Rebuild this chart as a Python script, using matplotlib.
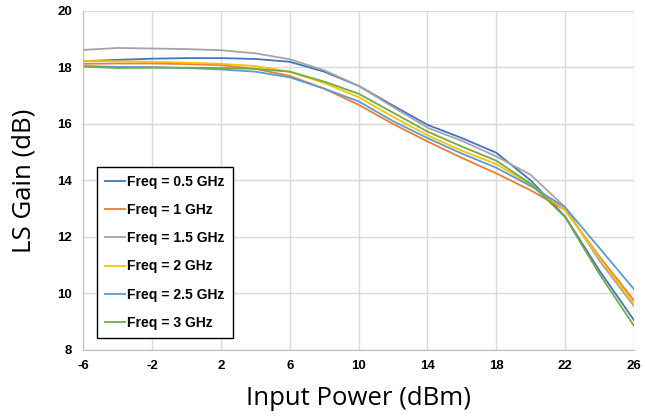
import matplotlib
matplotlib.use("Agg")
import matplotlib.pyplot as plt

plt.rcParams["axes.unicode_minus"] = False

x_dbm = [-6, -4, -2, 0, 2, 4, 6, 8, 10, 12, 14, 16, 18, 20, 22, 24, 26]
gain_05 = [18.22, 18.27, 18.31, 18.33, 18.33, 18.30, 18.20, 17.85, 17.35, 16.65, 15.97, 15.50, 14.98, 14.00, 12.72, 10.80, 9.05]
gain_1 = [18.13, 18.14, 18.14, 18.12, 18.08, 17.95, 17.70, 17.25, 16.68, 16.00, 15.38, 14.80, 14.25, 13.65, 12.95, 11.30, 9.75]
gain_15 = [18.62, 18.69, 18.67, 18.65, 18.61, 18.50, 18.29, 17.90, 17.35, 16.60, 15.87, 15.40, 14.85, 14.20, 13.05, 11.15, 9.55]
gain_2 = [18.23, 18.22, 18.20, 18.17, 18.13, 18.05, 17.85, 17.45, 16.95, 16.25, 15.60, 15.05, 14.58, 13.85, 12.95, 11.25, 9.62]
gain_25 = [18.05, 18.02, 18.01, 17.98, 17.93, 17.85, 17.65, 17.25, 16.80, 16.10, 15.50, 14.95, 14.45, 13.80, 13.05, 11.60, 10.15]
gain_3 = [18.03, 17.98, 17.99, 17.99, 17.98, 17.95, 17.85, 17.50, 17.07, 16.40, 15.73, 15.20, 14.70, 13.88, 12.70, 10.68, 8.85]

labels = ["Freq = 0.5 GHz", "Freq = 1 GHz", "Freq = 1.5 GHz", "Freq = 2 GHz", "Freq = 2.5 GHz", "Freq = 3 GHz"]
series = [gain_05, gain_1, gain_15, gain_2, gain_25, gain_3]
colors = ["#4472C4", "#ED7D31", "#A5A5A5", "#FFC000", "#5B9BD5", "#70AD47"]
xticks = [-6, -2, 2, 6, 10, 14, 18, 22, 26]
yticks = [8, 10, 12, 14, 16, 18, 20]

fig = plt.figure(figsize=(6.45, 4.16), dpi=100)
ax = fig.add_axes([0.129, 0.1587, 0.854, 0.815])

for y, lab, c in zip(series, labels, colors):
    ax.plot(x_dbm, y, color=c, lw=1.3, label=lab, solid_joinstyle="round")

ax.set_xlim(-6, 26)
ax.set_ylim(8, 20)
ax.set_xticks(xticks)
ax.set_yticks(yticks)
ax.grid(True, color="#d9d9d9", lw=1.0)
ax.set_axisbelow(True)
for s in ["top", "right"]:
    ax.spines[s].set_visible(False)
for s in ["left", "bottom"]:
    ax.spines[s].set_color("#bfbfbf")
ax.tick_params(axis="x", length=0, pad=7.5)
ax.tick_params(axis="y", length=0, pad=8)
for t in ax.get_xticklabels() + ax.get_yticklabels():
    t.set_fontfamily("Liberation Sans")
    t.set_fontweight("bold")
    t.set_fontsize(9.5)

ax.set_xlabel("Input Power (dBm)", fontfamily="Open Sans", fontsize=18.5, labelpad=10)
ax.set_ylabel("LS Gain (dB)", fontfamily="Open Sans", fontsize=18.5, labelpad=15)

leg = ax.legend(loc="lower left", bbox_to_anchor=(0.025, 0.035), frameon=True, fancybox=False,
                edgecolor="black", handlelength=1.45, handletextpad=0.12, labelspacing=1.02,
                borderpad=0.6, borderaxespad=0,
                prop={"family": "Liberation Sans", "weight": "bold", "size": 10})
leg.get_frame().set_linewidth(1.0)
leg.get_frame().set_alpha(1)

fig.savefig("out.png", dpi=100)
